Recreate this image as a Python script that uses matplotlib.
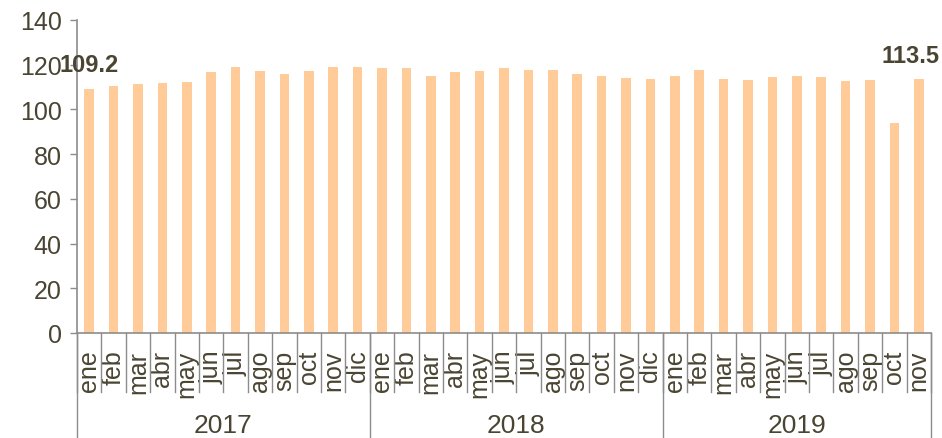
import matplotlib.pyplot as plt
import matplotlib.transforms as mtransforms

plt.rcParams['font.family'] = ['Liberation Sans Narrow', 'Liberation Sans', 'DejaVu Sans']

months = ["ene", "feb", "mar", "abr", "may", "jun", "jul", "ago", "sep", "oct", "nov", "dic"]
years = ["2017", "2018", "2019"]
months_per_year = [12, 12, 11]

values_2017 = [109.2, 110.5, 111.5, 111.8, 112.1, 116.9, 119.0, 117.2, 115.7, 117.3, 119.0, 119.0]
values_2018 = [118.7, 118.4, 115.1, 116.6, 117.2, 118.4, 117.5, 117.5, 116.0, 115.1, 114.2, 113.4]
values_2019 = [114.8, 117.5, 113.6, 113.0, 114.3, 114.8, 114.3, 112.7, 113.0, 93.9, 113.5]

values = values_2017 + values_2018 + values_2019
labels = []
for n in months_per_year:
    labels += months[:n]

text_color = "#4a4432"
axis_color = "#8c8c8c"

fig = plt.figure(figsize=(9.42, 4.39), dpi=100)
ax = fig.add_axes([77 / 942, 1 - 334 / 439, (931 - 77) / 942, 313 / 439])

x = list(range(len(values)))
ax.bar(x, values, width=0.4, color="#ffcc99", zorder=2)

ax.set_xlim(-0.5, len(values) - 0.5)
ax.set_ylim(0, 140)
ax.set_yticks(range(0, 141, 20))
ax.tick_params(axis="y", length=5, width=1, color=axis_color, labelsize=18,
               labelcolor=text_color, pad=6)
ax.set_xticks(x)
ax.set_xticklabels(labels, rotation=90)
ax.tick_params(axis="x", length=0, labelsize=18, labelcolor=text_color, pad=12)

for side in ["top", "right"]:
    ax.spines[side].set_visible(False)
for side in ["left", "bottom"]:
    ax.spines[side].set_color(axis_color)
    ax.spines[side].set_linewidth(1.2)

trans = mtransforms.blended_transform_factory(ax.transData, ax.transAxes)

# month separators
for i in range(len(values) + 1):
    ax.plot([i - 0.5, i - 0.5], [0, -59 / 313], transform=trans, color=axis_color,
            lw=1, clip_on=False)

# year separators and labels
start = 0
for yr, n in zip(years, months_per_year):
    ax.plot([start - 0.5, start - 0.5], [0, -105 / 313], transform=trans,
            color=axis_color, lw=1, clip_on=False)
    ax.text(start + (n - 1) / 2, -92 / 313, yr, transform=trans, ha="center",
            va="center", fontsize=19, color=text_color)
    start += n
ax.plot([start - 0.5, start - 0.5], [0, -105 / 313], transform=trans,
        color=axis_color, lw=1, clip_on=False)

# value labels for first and last bars
last = len(values) - 1
for i, dx in [(0, 0), (last, -6)]:
    ax.annotate(f"{values[i]:.1f}", (x[i], values[i]), xytext=(dx, 9),
                textcoords="offset points", ha="center", va="bottom",
                fontsize=17, fontweight="bold", color=text_color)

fig.savefig("out.png", dpi=100)
